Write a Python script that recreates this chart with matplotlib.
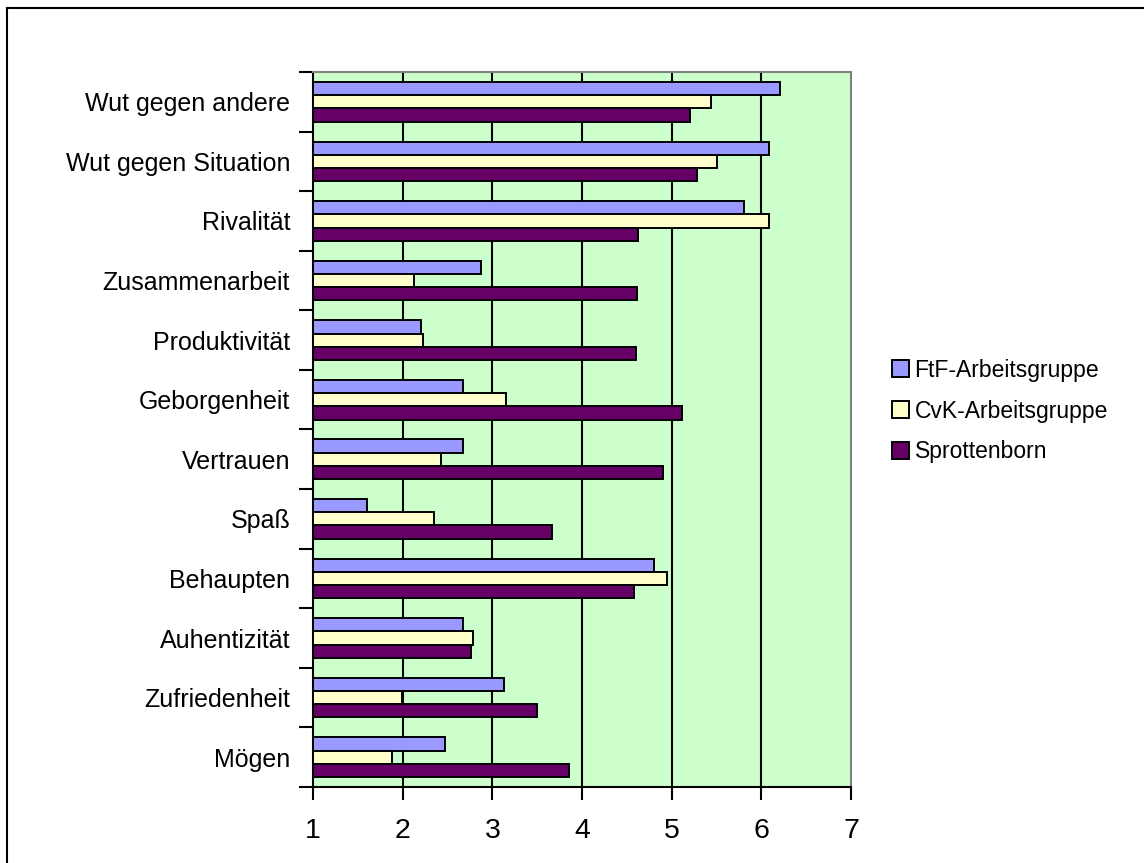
import numpy as np
import matplotlib
matplotlib.use('Agg')
import matplotlib.pyplot as plt
from matplotlib import rcParams
from matplotlib.lines import Line2D

rcParams['font.family'] = ['Liberation Sans', 'DejaVu Sans']

# Kategorien von oben nach unten
categories = ['Wut gegen andere', 'Wut gegen Situation', 'Rivalität', 'Zusammenarbeit',
              'Produktivität', 'Geborgenheit', 'Vertrauen', 'Spaß', 'Behaupten',
              'Auhentizität', 'Zufriedenheit', 'Mögen']
ftf = [6.21, 6.08, 5.81, 2.87, 2.21, 2.67, 2.67, 1.60, 4.80, 2.67, 3.13, 2.47]
cvk = [5.44, 5.50, 6.09, 2.13, 2.23, 3.15, 2.43, 2.35, 4.95, 2.78, 1.99, 1.88]
spr = [5.21, 5.28, 4.62, 4.61, 4.60, 5.11, 4.90, 3.66, 4.58, 2.76, 3.50, 3.85]
series_names = ['FtF-Arbeitsgruppe', 'CvK-Arbeitsgruppe', 'Sprottenborn']
colors = ['#9999FF', '#FFFFCC', '#660066']

fig = plt.figure(figsize=(11.44, 8.63), dpi=100)
ax = fig.add_axes([313/1144, 1-787/863, (851-313)/1144, (787-72)/863])

n = len(categories)
y = np.arange(n)[::-1]  # erste Kategorie oben
h = 0.222
for vals, off, c, name in zip([ftf, cvk, spr], [h, 0, -h], colors, series_names):
    ax.barh(y + off, np.array(vals) - 1, left=1, height=h, color=c,
            edgecolor='black', linewidth=1.4, label=name, zorder=3)

ax.set_facecolor('#CCFFCC')
ax.set_xlim(1, 7)
ax.set_ylim(-0.5, n - 0.5)
ax.set_xticks(range(1, 8))
ax.set_xticklabels([str(i) for i in range(1, 8)], fontsize=20.5)
ax.tick_params(axis='x', direction='out', length=9, width=1.5, pad=13)

ax.set_yticks(y)
ax.set_yticklabels(categories, fontsize=18)
ax.tick_params(axis='y', which='major', length=0, pad=16.5)
ax.set_yticks(np.arange(n + 1) - 0.5, minor=True)
ax.tick_params(axis='y', which='minor', direction='out', length=10, width=1.5)

for xv in range(2, 7):
    ax.axvline(xv, color='black', linewidth=1.5, zorder=1)

ax.spines['left'].set_linewidth(1.5)
ax.spines['bottom'].set_linewidth(1.5)
ax.spines['top'].set_color('#808080')
ax.spines['right'].set_color('#808080')
ax.spines['top'].set_linewidth(1.5)
ax.spines['right'].set_linewidth(1.5)

leg = fig.legend(loc='center left', bbox_to_anchor=(871/1144, 1-411/863),
                 frameon=False, fontsize=16.5, handlelength=0.75, handleheight=0.75,
                 handletextpad=0.25, labelspacing=0.78)
for p in leg.get_patches():
    p.set_linewidth(1.4)

# Rahmen um die Grafik (nur oben und links sichtbar)
fig.add_artist(Line2D([7/1144, 7/1144], [0, 1-8/863], transform=fig.transFigure,
                      color='black', linewidth=1.5))
fig.add_artist(Line2D([7/1144, 1], [1-8/863, 1-8/863], transform=fig.transFigure,
                      color='black', linewidth=1.5))

fig.savefig('out.png', dpi=100)
